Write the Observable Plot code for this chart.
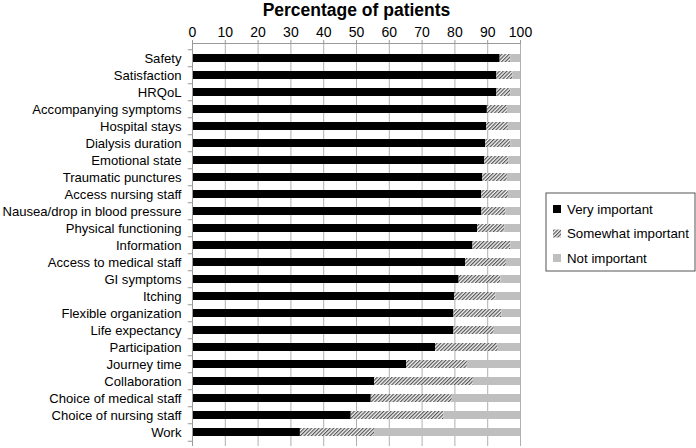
<!DOCTYPE html>
<html>
<head>
<meta charset="utf-8">
<script src="https://cdn.jsdelivr.net/npm/d3@7"></script>
<script src="https://cdn.jsdelivr.net/npm/@observablehq/plot@0.6"></script>
<style>
  html, body { margin: 0; padding: 0; background: #fff; }
  #chart { position: relative; width: 696px; height: 448px; font-family: "Liberation Sans", Arial, sans-serif; }
</style>
</head>
<body>
<div id="chart"></div>
<script>
const title = "Percentage of patients";
const categories = [
  "Safety", "Satisfaction", "HRQoL", "Accompanying symptoms", "Hospital stays",
  "Dialysis duration", "Emotional state", "Traumatic punctures", "Access nursing staff",
  "Nausea/drop in blood pressure", "Physical functioning", "Information",
  "Access to medical staff", "GI symptoms", "Itching", "Flexible organization",
  "Life expectancy", "Participation", "Journey time", "Collaboration",
  "Choice of medical staff", "Choice of nursing staff", "Work"
];
const veryImportant = [93.8, 92.8, 92.8, 89.9, 89.7, 89.4, 89.1, 88.5, 88.2, 88.2, 86.9, 85.5, 83.3, 81.3, 79.9, 79.7, 79.7, 74.1, 65.3, 55.5, 54.5, 48.4, 32.9];
const somewhatImportant = [3.2, 4.9, 4.2, 6.1, 6.6, 7.6, 7.4, 7.5, 8.1, 7.4, 8.3, 11.5, 12.4, 12.7, 12.6, 14.6, 12.3, 19.1, 18.5, 30.1, 24.7, 28.3, 22.6];
const notImportant = [3.0, 2.3, 3.0, 4.0, 3.7, 3.0, 3.5, 4.0, 3.7, 4.4, 4.8, 3.0, 4.3, 6.0, 7.5, 5.7, 8.0, 6.8, 16.2, 14.4, 20.8, 23.3, 44.5];
const seriesNames = ["Very important", "Somewhat important", "Not important"];
const seriesFills = ["#000000", "url(#hatch)", "#bfbfbf"];
const xTicks = [0, 10, 20, 30, 40, 50, 60, 70, 80, 90, 100];

const rows = [];
categories.forEach((c, i) => {
  rows.push({category: c, series: seriesNames[0], value: veryImportant[i]});
  rows.push({category: c, series: seriesNames[1], value: somewhatImportant[i]});
  rows.push({category: c, series: seriesNames[2], value: notImportant[i]});
});

const font = "Liberation Sans, Arial, sans-serif";
const step = (446 - 43) / categories.length;

const plot = Plot.plot({
  width: 696,
  height: 448,
  marginLeft: 192,
  marginRight: 176,
  marginTop: 43,
  marginBottom: 2,
  style: {fontFamily: font, fontSize: "13px", color: "#000", background: "#fff"},
  x: {domain: [0, 100], axis: null},
  y: {domain: categories, padding: 0.55, axis: null},
  color: {domain: seriesNames, range: seriesFills},
  marks: [
    Plot.ruleX(xTicks, {stroke: "#b0b0b0", strokeWidth: 1}),
    Plot.barX(rows, Plot.stackX({x: "value", y: "category", fill: "series", order: seriesNames})),
    Plot.ruleX([0], {stroke: "#9a9a9a"}),
    Plot.ruleY(categories, {y: d => d, x1: -1.3, x2: 0, dy: -step / 2, stroke: "#9a9a9a", clip: false}),
    Plot.ruleY([categories[categories.length - 1]], {y: d => d, x1: -1.3, x2: 0, dy: step / 2, stroke: "#9a9a9a", clip: false}),
    Plot.text(categories, {y: d => d, x: 0, dx: -11, textAnchor: "end", text: d => d, fontSize: 13.1, fill: "#000"}),
    Plot.axisX(xTicks, {anchor: "top", tickSize: 4, tickPadding: 3, fontSize: 14, stroke: "#9a9a9a", color: "#000", label: null}),
    Plot.frame({anchor: "top", stroke: "#9a9a9a"}),
    Plot.text([title], {frameAnchor: "top", dy: -40, fontSize: 17.5, fontWeight: "bold", fill: "#000"})
  ]
});

const svg = d3.select(plot);
svg.style("overflow", "visible");
const defs = svg.insert("defs", ":first-child");
const pat = defs.append("pattern")
  .attr("id", "hatch").attr("patternUnits", "userSpaceOnUse")
  .attr("width", 2.6).attr("height", 2.6).attr("patternTransform", "rotate(45)");
pat.append("rect").attr("width", 2.6).attr("height", 2.6).attr("fill", "#f2f2f2");
pat.append("line").attr("x1", 0.6).attr("y1", 0).attr("x2", 0.6).attr("y2", 2.6)
  .attr("stroke", "#4a4a4a").attr("stroke-width", 1.1);

// Legend
const lg = svg.append("g").attr("transform", "translate(546,193)")
  .attr("font-family", font).attr("font-size", 13.3).attr("text-anchor", "start");
lg.append("rect").attr("width", 149).attr("height", 78).attr("fill", "#fff").attr("stroke", "#555").attr("stroke-width", 1);
seriesNames.forEach((name, i) => {
  const y = 16 + i * 24.5;
  lg.append("rect").attr("x", 7).attr("y", y - 4).attr("width", 8).attr("height", 8).attr("fill", seriesFills[i]);
  lg.append("text").attr("x", 21).attr("y", y).attr("dy", "0.35em").attr("fill", "#000").attr("text-anchor", "start").text(name);
});

document.getElementById("chart").appendChild(plot);
</script>
</body>
</html>
